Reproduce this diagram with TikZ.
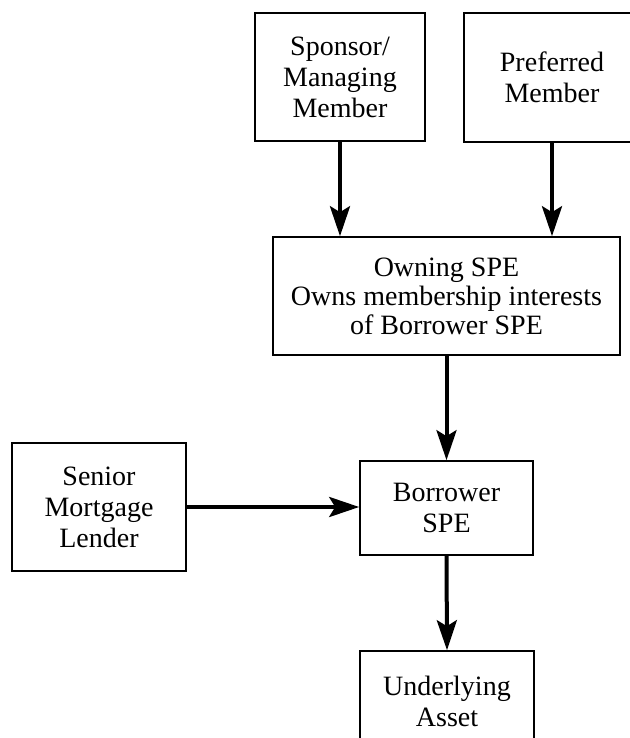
\documentclass[tikz,border=0pt]{standalone}
\usepackage{fontspec}
\setmainfont{Liberation Serif}
\usetikzlibrary{arrows.meta}

\tikzset{
  entity/.style={rectangle,draw,line width=0.8pt,align=center,inner sep=0pt,
    font=\fontsize{14}{15.5}\selectfont},
  flow/.style={-{Stealth[length=15pt,width=10pt,inset=3pt]},line width=2pt}
}

\begin{document}
\begin{tikzpicture}[x=0.5pt,y=-0.5pt]
        \useasboundingbox (0,0) rectangle (629,738);

        \node (sponsor) at (340,77) [entity,minimum width=85pt,minimum height=64pt] {Sponsor/\\Managing\\Member};
        \node (preferred) at (552,77.5) [entity,minimum width=88pt,minimum height=64.5pt] {Preferred\\Member};
        \node (owning) at (446.5,296) [entity,minimum width=173.5pt,minimum height=59pt,
            font=\fontsize{14}{14.5}\selectfont] {Owning SPE\\Owns membership interests\\of Borrower SPE};
        \node (lender) at (99,507) [entity,minimum width=87pt,minimum height=64pt] {Senior\\Mortgage\\Lender};
        \node (borrower) at (446.5,508) [entity,minimum width=86.5pt,minimum height=47pt] {Borrower\\SPE};
        \node (asset) at (447,701) [entity,minimum width=87pt,minimum height=50pt] {Underlying\\Asset};

        \draw[flow] (sponsor.south) -- (sponsor.south |- owning.north);
        \draw[flow] (preferred.south) -- (preferred.south |- owning.north);
        \draw[flow] (owning.south) -- (borrower.north);
        \draw[flow] (lender.east) -- (lender.east -| borrower.west);
        \draw[flow] (borrower.south) -- (asset.north);
    \end{tikzpicture}
\end{document}
